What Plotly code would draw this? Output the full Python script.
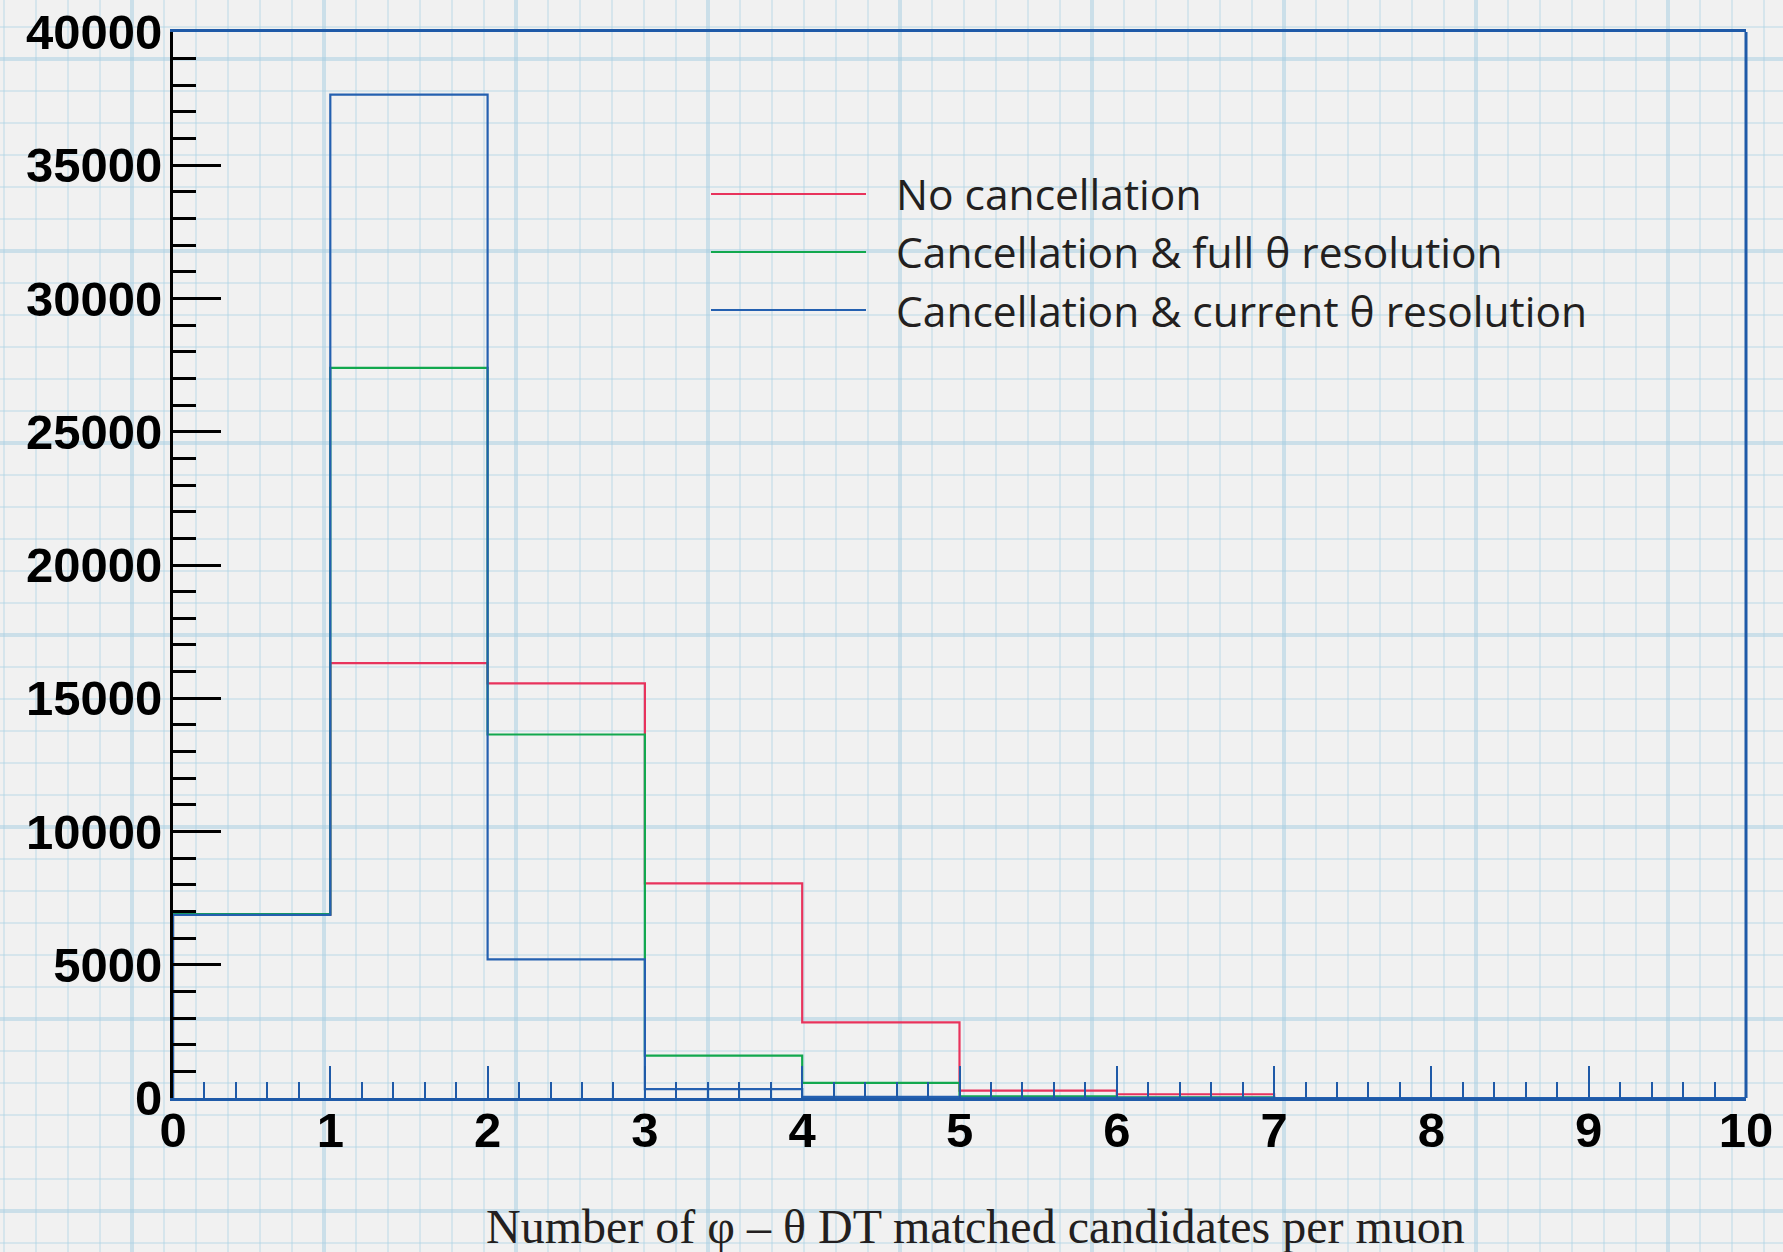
import plotly.graph_objects as go

# ---- data: counts per bin of "number of phi-theta DT matched candidates per muon"
bin_edges = [0, 1, 2, 3, 4, 5, 6, 7, 8, 9, 10]
no_cancellation = [6870, 16320, 15560, 8050, 2840, 280, 140, 0, 0, 0]
cancel_full_theta = [6900, 27400, 13640, 1590, 570, 60, 25, 0, 0, 0]
cancel_current_theta = [6870, 37650, 5200, 330, 45, 8, 2, 0, 0, 0]

series_names = [
    "No cancellation",
    "Cancellation & full θ resolution",
    "Cancellation & current θ resolution",
]
series_colors = ["#e8335c", "#12a84e", "#2460b0"]
x_ticks = [0, 1, 2, 3, 4, 5, 6, 7, 8, 9, 10]
y_ticks = [0, 5000, 10000, 15000, 20000, 25000, 30000, 35000, 40000]
x_title = "Number of φ – θ DT matched candidates per muon"

W, H = 1783, 1252
AXIS_BLUE = "#1f5aa8"
GRID_MINOR = "rgba(170,210,228,0.38)"
GRID_MAJOR = "rgba(165,206,226,0.5)"
TICK_FONT = dict(family="Liberation Sans, Arial, sans-serif", size=49, color="#000000", weight="bold")

fig = go.Figure()

# empty trace that carries the graph-paper backdrop axes
fig.add_trace(go.Scatter(x=[], y=[], xaxis="x", yaxis="y", showlegend=False, hoverinfo="skip"))


def step_outline(edges, counts):
    xs = list(edges)
    ys = list(counts) + [counts[-1]]
    return [edges[0]] + xs + [edges[-1]], [0] + ys + [0]


for name, counts, color in zip(series_names,
                               [no_cancellation, cancel_full_theta, cancel_current_theta],
                               series_colors):
    xs, ys = step_outline(bin_edges, counts)
    fig.add_trace(go.Scatter(
        x=xs, y=ys, name=name, mode="lines",
        line=dict(color=color, width=2.2, shape="hv"),
        xaxis="x2", yaxis="y2", showlegend=False, hoverinfo="skip",
    ))

# plot-area placement (fractions of the page)
x_dom = [173 / W, 1746 / W]
y_dom = [(H - 1098) / H, (H - 32) / H]

fig.update_layout(
    width=W, height=H,
    margin=dict(l=0, r=0, t=0, b=0),
    paper_bgcolor="#f1f1f1",
    plot_bgcolor="rgba(0,0,0,0)",
    showlegend=False,
    hovermode=False,
    # graph-paper backdrop in page pixels
    xaxis=dict(
        domain=[0, 1], range=[0, W], fixedrange=True,
        showticklabels=False, ticks="", zeroline=False, showline=False,
        showgrid=True, gridcolor=GRID_MAJOR, gridwidth=3.5, tick0=132, dtick=192,
        minor=dict(showgrid=True, gridcolor=GRID_MINOR, gridwidth=2.2, tick0=4, dtick=32),
    ),
    yaxis=dict(
        domain=[0, 1], range=[H, 0], fixedrange=True,
        showticklabels=False, ticks="", zeroline=False, showline=False,
        showgrid=True, gridcolor=GRID_MAJOR, gridwidth=3.5, tick0=58.7, dtick=192,
        minor=dict(showgrid=True, gridcolor=GRID_MINOR, gridwidth=2.2, tick0=26.7, dtick=32),
    ),
    xaxis2=dict(
        domain=x_dom, anchor="y2", range=[0, 10],
        tickmode="array", tickvals=x_ticks, ticktext=[str(v) for v in x_ticks],
        ticks="inside", ticklen=32, tickwidth=2, tickcolor=AXIS_BLUE,
        minor=dict(ticks="inside", ticklen=16, tickwidth=2, tickcolor=AXIS_BLUE, dtick=0.2, tick0=0),
        showline=True, linecolor=AXIS_BLUE, linewidth=2.5, mirror=True,
        showgrid=False, zeroline=False, tickfont=TICK_FONT, ticklabelstandoff=-13,
        automargin=False,
    ),
    yaxis2=dict(
        domain=y_dom, anchor="x2", range=[0, 40000],
        tickmode="array", tickvals=y_ticks, ticktext=[str(v) for v in y_ticks],
        ticks="inside", ticklen=48, tickwidth=3, tickcolor="#000000",
        minor=dict(ticks="inside", ticklen=23, tickwidth=3, tickcolor="#000000", dtick=1000, tick0=0),
        showline=True, linecolor="#000000", linewidth=3, mirror=False,
        showgrid=False, zeroline=False, tickfont=TICK_FONT, ticklabelstandoff=-2,
        automargin=False,
    ),
)

# right-hand frame edge
fig.add_shape(type="line", xref="x2 domain", yref="y2 domain", x0=1, x1=1, y0=0, y1=1,
              line=dict(color=AXIS_BLUE, width=3))

# legend: coloured keys with labels
legend_rows_y = [194, 252, 310]
for name, color, ypix in zip(series_names, series_colors, legend_rows_y):
    yp = (H - ypix) / H
    fig.add_shape(type="line", xref="paper", yref="paper",
                  x0=711 / W, x1=866 / W, y0=yp, y1=yp,
                  line=dict(color=color, width=2))
    fig.add_annotation(x=894 / W, y=yp, xref="paper", yref="paper",
                       text=name, showarrow=False, xanchor="left", yanchor="middle",
                       font=dict(family="Open Sans, Noto Sans, sans-serif", size=42.5, color="#231f20"))

# x-axis title
fig.add_annotation(x=975 / W, y=(H - 1226) / H, xref="paper", yref="paper",
                   text=x_title, showarrow=False, xanchor="center", yanchor="middle",
                   font=dict(family="Liberation Serif, Times New Roman, serif", size=48, color="#231f20"))

fig.write_html("out.html")
